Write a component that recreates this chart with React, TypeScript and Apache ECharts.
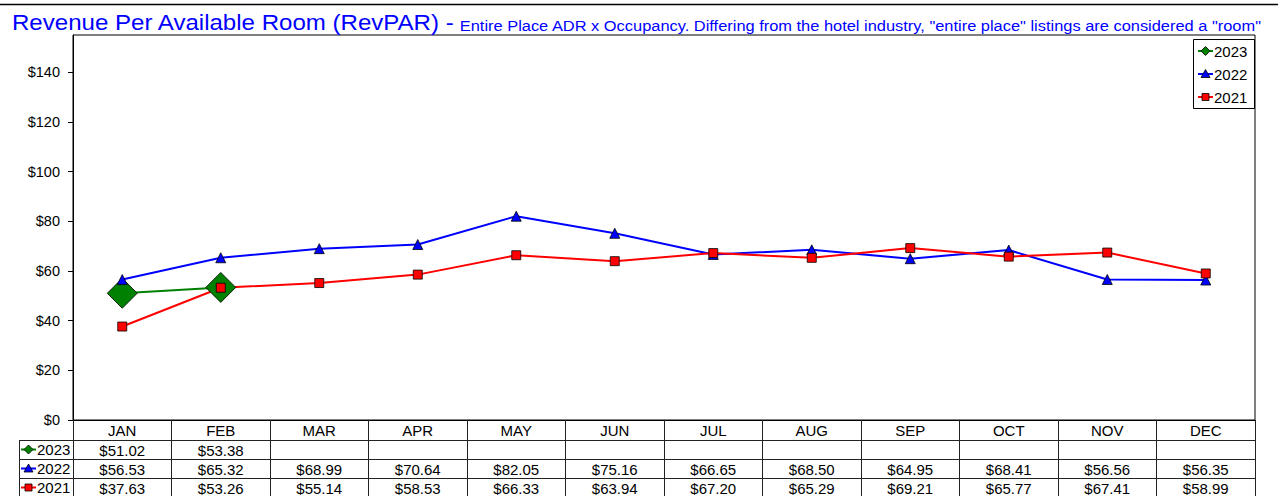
import React, { useEffect, useRef } from "react";
import * as echarts from "echarts";

const months = ["JAN", "FEB", "MAR", "APR", "MAY", "JUN", "JUL", "AUG", "SEP", "OCT", "NOV", "DEC"];
const years = ["2023", "2022", "2021"];
const rev2023: (number | null)[] = [51.02, 53.38, null, null, null, null, null, null, null, null, null, null];
const rev2022: (number | null)[] = [56.53, 65.32, 68.99, 70.64, 82.05, 75.16, 66.65, 68.5, 64.95, 68.41, 56.56, 56.35];
const rev2021: (number | null)[] = [37.63, 53.26, 55.14, 58.53, 66.33, 63.94, 67.2, 65.29, 69.21, 65.77, 67.41, 58.99];
const yTicks = [0, 20, 40, 60, 80, 100, 120, 140];

const titleMain = "Revenue Per Available Room (RevPAR) -";
const titleSub =
  ' Entire Place ADR x Occupancy. Differing from the hotel industry, "entire place" listings are considered a "room"';

const FONT = "'Liberation Sans', Arial, Helvetica, sans-serif";
const W = 1278;
const H = 496;
const G_LEFT = 73;
const G_RIGHT = 1255;
const G_TOP = 35;
const G_BOTTOM = 420;
const COL_W = (G_RIGHT - G_LEFT) / months.length;
const ROW_TOP = 440;
const ROW_H = 19;
const LINE_COLOR = "#222";

const seriesDefs = [
  { name: years[0], data: rev2023, color: "#008000", symbol: "diamond", size: 30 },
  { name: years[1], data: rev2022, color: "#0000ff", symbol: "triangle", size: 10 },
  { name: years[2], data: rev2021, color: "#ff0000", symbol: "rect", size: 9 },
];

function fmt(v: number | null) {
  return v == null ? "" : "$" + v.toFixed(2);
}

function rowMarker(kind: string, cx: number, cy: number, color: string): any {
  const style = { fill: color, stroke: "#000", lineWidth: 0.8 };
  if (kind === "diamond") {
    return { type: "polygon", shape: { points: [[cx, cy - 4.5], [cx + 4.5, cy], [cx, cy + 4.5], [cx - 4.5, cy]] }, style, silent: true };
  }
  if (kind === "triangle") {
    return { type: "polygon", shape: { points: [[cx, cy - 4.5], [cx + 4.5, cy + 3.5], [cx - 4.5, cy + 3.5]] }, style, silent: true };
  }
  return { type: "rect", shape: { x: cx - 3.5, y: cy - 3.5, width: 7, height: 7 }, style, silent: true };
}

function keyEntry(s: (typeof seriesDefs)[number], x0: number, cy: number): any[] {
  return [
    {
      type: "line",
      shape: { x1: x0, y1: cy, x2: x0 + 15, y2: cy },
      style: { stroke: s.color, lineWidth: 2 },
      silent: true,
    },
    rowMarker(s.symbol, x0 + 7.5, cy, s.color),
    {
      type: "text",
      x: x0 + 16,
      y: cy,
      style: { text: s.name, fontSize: 15, fontFamily: FONT, fill: "#000", textAlign: "left", textVerticalAlign: "middle" },
      silent: true,
    },
  ];
}

export default function App() {
  const ref = useRef<HTMLDivElement>(null);
  useEffect(() => {
    if (!ref.current) return;
    const chart = echarts.init(ref.current, undefined, { renderer: "svg" });

    const graphics: any[] = [];
    // top rule
    graphics.push({
      type: "line",
      shape: { x1: 0, y1: 4.5, x2: W, y2: 4.5 },
      style: { stroke: "#000", lineWidth: 1.5 },
      silent: true,
    });
    // title
    graphics.push({
      type: "text",
      x: 12,
      y: 11,
      scaleX: 1.094,
      style: {
        text: "{a|" + titleMain + "}{b|" + titleSub + "}",
        rich: {
          a: { fontSize: 22, lineHeight: 22, fontFamily: FONT, fill: "#0000ff", verticalAlign: "bottom" },
          b: { fontSize: 15, lineHeight: 15, fontFamily: FONT, fill: "#0000ff", verticalAlign: "bottom" },
        },
        textVerticalAlign: "top",
      },
      silent: true,
    });
    // legend box
    graphics.push({
      type: "rect",
      shape: { x: 1193.5, y: 39.5, width: 61, height: 69 },
      style: { fill: "#fff", stroke: "#000", lineWidth: 1 },
      z: 10,
      silent: true,
    });
    seriesDefs.forEach((s, i) => {
      keyEntry(s, 1198, 51 + i * 23).forEach((g) => graphics.push({ ...g, z: 11 }));
    });
    // table horizontal lines
    for (let r = 0; r <= years.length; r++) {
      const y = ROW_TOP + r * ROW_H + 0.5;
      graphics.push({
        type: "line",
        shape: { x1: 19, y1: y, x2: G_RIGHT, y2: y },
        style: { stroke: LINE_COLOR, lineWidth: 1 },
        silent: true,
      });
    }
    graphics.push({
      type: "line",
      shape: { x1: 19.5, y1: ROW_TOP, x2: 19.5, y2: H },
      style: { stroke: LINE_COLOR, lineWidth: 1 },
      silent: true,
    });
    // table rows
    seriesDefs.forEach((s, r) => {
      const cy = ROW_TOP + r * ROW_H + ROW_H / 2;
      keyEntry(s, 21, cy).forEach((g) => graphics.push(g));
      s.data.forEach((v, i) => {
        if (v == null) return;
        graphics.push({
          type: "text",
          x: G_LEFT + (i + 0.5) * COL_W,
          y: cy + 0.5,
          style: { text: fmt(v), fontSize: 15, fontFamily: FONT, fill: "#000", textAlign: "center", textVerticalAlign: "middle" },
          silent: true,
        });
      });
    });

    chart.setOption({
      animation: false,
      backgroundColor: "#fff",
      textStyle: { fontFamily: FONT },
      grid: {
        left: G_LEFT,
        right: W - G_RIGHT,
        top: G_TOP,
        bottom: H - G_BOTTOM,
        show: true,
        borderColor: "#000",
        borderWidth: 1,
        backgroundColor: "#fff",
        containLabel: false,
      },
      xAxis: {
        type: "category",
        data: months,
        boundaryGap: true,
        axisLine: { show: true, lineStyle: { color: "#000", width: 1 } },
        axisTick: { show: true, interval: 0, alignWithLabel: false, length: H - G_BOTTOM, lineStyle: { color: LINE_COLOR } },
        axisLabel: { show: true, interval: 0, margin: 3, fontSize: 15, color: "#000", fontFamily: FONT },
        splitLine: { show: false },
      },
      yAxis: {
        type: "value",
        min: 0,
        max: 155,
        interval: 20,
        axisLine: { show: true, lineStyle: { color: "#000", width: 1 } },
        axisTick: { show: true, length: 5, lineStyle: { color: "#000" }, customValues: yTicks },
        axisLabel: {
          margin: 13,
          fontSize: 14.5,
          color: "#000",
          fontFamily: FONT,
          customValues: yTicks,
          formatter: (v: number) => (v % 20 === 0 ? "$" + v : ""),
        },
        splitLine: { show: false },
      },
      series: seriesDefs.map((s) => ({
        name: s.name,
        type: "line",
        data: s.data,
        symbol: s.symbol,
        symbolSize: s.size,
        showSymbol: true,
        connectNulls: false,
        lineStyle: { color: s.color, width: 2 },
        itemStyle: { color: s.color, borderColor: "#000", borderWidth: 0.8 },
        emphasis: { disabled: true },
      })),
      graphic: graphics,
    });
    return () => chart.dispose();
  }, []);
  return <div ref={ref} style={{ position: "absolute", left: 0, top: 0, width: W, height: H }} />;
}
